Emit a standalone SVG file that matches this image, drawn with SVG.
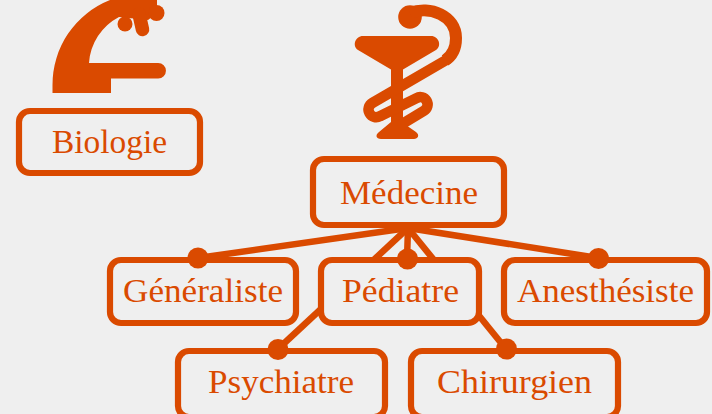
<svg xmlns="http://www.w3.org/2000/svg" width="712" height="414" viewBox="0 0 712 414">
<style>
.box{fill:#efefef;stroke:#da4a00;stroke-width:6.200}
.lbl{font-family:"Liberation Serif","Times New Roman",serif;font-size:34px;fill:#da4a00}
.edge{stroke:#da4a00;stroke-width:6.500;fill:none}
.dot{fill:#da4a00}
.icon{fill:#da4a00}
.snake{fill:none;stroke:#da4a00}
</style>
<rect width="712" height="414" fill="#efefef"/>
<g id="connectors">
<line class="edge" x1="408" y1="228" x2="198" y2="258"/>
<line class="edge" x1="408" y1="228" x2="407" y2="259"/>
<line class="edge" x1="408" y1="228" x2="598" y2="258"/>
<line class="edge" x1="408" y1="228" x2="278" y2="349"/>
<line class="edge" x1="408" y1="228" x2="506" y2="349"/>
</g>
<g id="icon-biologie">
<path class="icon" d="M52.500 93 L52.500 85 A91 91 0 0 1 110 0 L157 0 L157 13 L148 20 L119 17 A56 56 0 0 0 89 63 L158.200 63 A7.750 7.750 0 0 1 158.200 78.500 L111 78.500 L111 93 Z"/>
<circle class="icon" cx="125" cy="24" r="7.500"/>
<circle class="icon" cx="156.500" cy="13" r="8"/>
<path d="M139 14 L142.500 29.500" fill="none" stroke="#da4a00" stroke-width="13.500" stroke-linecap="round"/>
</g>
<g id="icon-medecine">
<path class="icon" d="M363 36 L431 36 C439 36 442 46 436 50 L403 69.500 L403 123 L416 132 C420 135 418 139 414 139 L381 139 C376 139 375 135 379 132 L391 122 L391 69.500 L358 50 C352 46 355 36 363 36 Z"/>
<circle class="icon" cx="410" cy="17" r="11.800"/>
<path class="snake" stroke-width="12" d="M410 13 C430 5 456 16 456 38 C456 48 452 56 445 60.500"/>
<path class="snake" stroke-width="10.600" d="M448 59 L372.500 102.800 A7.300 7.300 0 0 0 380 116.200 L416.500 98.200 A7.300 7.300 0 0 1 424 110.800 L398 126.500"/>
</g>
<g id="node-biologie"><rect class="box" x="19" y="111" width="181" height="62" rx="11"/><text class="lbl" x="52" y="153" textLength="115" lengthAdjust="spacingAndGlyphs">Biologie</text></g>
<g id="node-medecine"><rect class="box" x="313" y="159" width="191" height="66" rx="11"/><text class="lbl" x="340" y="204" textLength="138" lengthAdjust="spacingAndGlyphs">Médecine</text></g>
<g id="node-generaliste"><rect class="box" x="110" y="260" width="186" height="63" rx="11"/><text class="lbl" x="123" y="302" textLength="160" lengthAdjust="spacingAndGlyphs">Généraliste</text><circle class="dot" cx="198" cy="258" r="10.500"/></g>
<g id="node-pediatre"><rect class="box" x="321" y="260" width="158" height="63" rx="11"/><text class="lbl" x="342" y="302" textLength="117" lengthAdjust="spacingAndGlyphs">Pédiatre</text><circle class="dot" cx="407.500" cy="259" r="10.500"/></g>
<g id="node-anesthesiste"><rect class="box" x="504" y="260" width="203" height="63" rx="11"/><text class="lbl" x="517" y="302" textLength="177" lengthAdjust="spacingAndGlyphs">Anesthésiste</text><circle class="dot" cx="598.500" cy="258.500" r="10.500"/></g>
<g id="node-psychiatre"><rect class="box" x="178" y="351" width="207" height="66" rx="11"/><text class="lbl" x="208" y="393" textLength="146" lengthAdjust="spacingAndGlyphs">Psychiatre</text><circle class="dot" cx="278" cy="349.500" r="10.500"/></g>
<g id="node-chirurgien"><rect class="box" x="411" y="351" width="207" height="66" rx="11"/><text class="lbl" x="437" y="393" textLength="155" lengthAdjust="spacingAndGlyphs">Chirurgien</text><circle class="dot" cx="506.500" cy="349" r="10.500"/></g>
</svg>
